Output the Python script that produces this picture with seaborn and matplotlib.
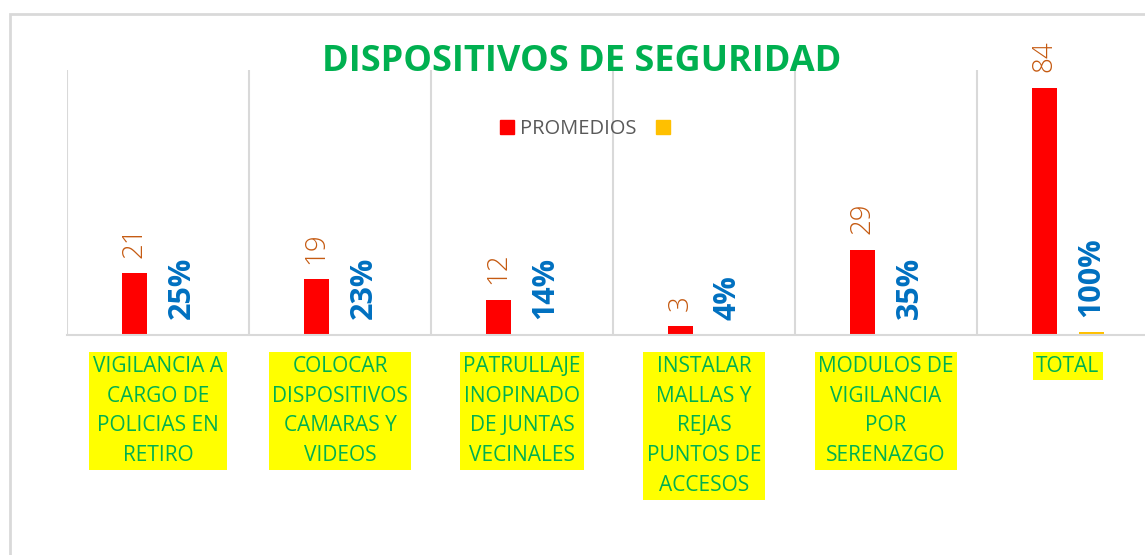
import seaborn as sns
import matplotlib.pyplot as plt
import matplotlib.patches as mpatches
import pandas as pd

categorias = [
    "VIGILANCIA A\nCARGO DE\nPOLICIAS EN\nRETIRO",
    "COLOCAR\nDISPOSITIVOS\nCAMARAS Y\nVIDEOS",
    "PATRULLAJE\nINOPINADO\nDE JUNTAS\nVECINALES",
    "INSTALAR\nMALLAS Y\nREJAS\nPUNTOS DE\nACCESOS",
    "MODULOS DE\nVIGILANCIA\nPOR\nSERENAZGO",
    "TOTAL",
]
promedios = [21, 19, 12, 3, 29, 84]
porcentajes = [0.25, 0.23, 0.14, 0.04, 0.35, 1.00]
series = ["PROMEDIOS", "PORCENTAJE"]

df = pd.DataFrame({
    "categoria": categorias * 2,
    "serie": [series[0]] * len(categorias) + [series[1]] * len(categorias),
    "valor": promedios + porcentajes,
})

sns.set_theme(style="white")
plt.rcParams["font.family"] = ["Open Sans", "DejaVu Sans"]

fig = plt.figure(figsize=(11.45, 5.55), dpi=100)
ax = fig.add_axes([67 / 1145, 1 - 335 / 555, 1092 / 1145, 265 / 555])

sns.barplot(
    data=df, x="categoria", y="valor", hue="serie",
    palette=["#FF0000", "#FFC000"], saturation=1,
    width=0.52, gap=0.47, dodge=True, linewidth=0,
    legend=False, ax=ax,
)

ax.set_xlim(-0.5, 5.5)
ax.set_ylim(0, 90)
ax.set_yticks([])
ax.set_xlabel("")
ax.set_ylabel("")

# separadores verticales entre categorias
for xb in [i + 0.5 for i in range(-1, 6)]:
    ax.axvline(xb, color="#D9D9D9", linewidth=1.5, zorder=0)
for s in ["top", "right", "left"]:
    ax.spines[s].set_visible(False)
ax.spines["bottom"].set_color("#D9D9D9")
ax.spines["bottom"].set_linewidth(1.5)

# etiquetas de valores
ax.bar_label(ax.containers[0], labels=[str(v) for v in promedios],
             rotation=90, padding=11, color="#C55A11", fontsize=20,
             fontweight="light")
ax.bar_label(ax.containers[1], labels=[f"{round(p * 100)}%" for p in porcentajes],
             rotation=90, padding=11, color="#0070C0", fontsize=22,
             fontweight="bold")

# etiquetas de categorias con fondo amarillo
ax.tick_params(axis="x", length=0, pad=15, labelsize=15, labelcolor="#00B050")
for lbl in ax.get_xticklabels():
    lbl.set_linespacing(1.55)
    lbl.set_bbox(dict(facecolor="#FFFF00", edgecolor="none", pad=2.5))

fig.text(0.508, 1 - 62 / 555, "DISPOSITIVOS DE SEGURIDAD", ha="center", va="center",
         fontsize=26, fontweight="bold", color="#00B050")

handles = [mpatches.Patch(color="#FF0000"), mpatches.Patch(color="#FFC000")]
fig.legend(handles, ["PROMEDIOS", ""], loc="center", ncol=2,
           bbox_to_anchor=(588 / 1145, 1 - 129 / 555), frameon=False,
           fontsize=14.5, labelcolor="#595959", handlelength=0.7,
           handleheight=0.7, handletextpad=0.3, columnspacing=1.0)

# borde del area del grafico
fig.patches.append(mpatches.Rectangle((10 / 1145, -0.1), 1.2, 1 - 14 / 555 + 0.1,
                                      transform=fig.transFigure, fill=False,
                                      edgecolor="#D9D9D9", linewidth=2))

fig.savefig("out.png", dpi=100)
